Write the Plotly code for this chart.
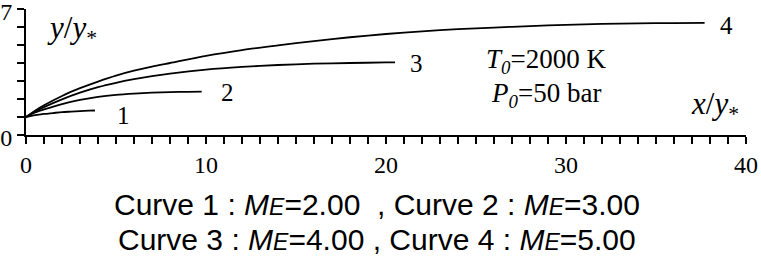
import plotly.graph_objects as go

# ---- data ----
x1 = [0, 0.5, 1, 1.5, 2, 2.5, 3, 3.5, 3.83]
y1 = [1.00, 1.10, 1.17, 1.22, 1.27, 1.30, 1.33, 1.35, 1.36]

x2 = [0, 0.5, 1, 2, 3, 4, 5, 6, 7, 8, 9, 9.76]
y2 = [1.00, 1.25, 1.42, 1.72, 1.95, 2.12, 2.23, 2.30, 2.35, 2.38, 2.40, 2.41]

x3 = [0, 0.5, 1, 2, 3, 4, 5, 6, 7, 8, 10, 12, 14, 16, 18, 20, 20.5]
y3 = [1.00, 1.30, 1.55, 1.98, 2.35, 2.66, 2.90, 3.10, 3.27, 3.41, 3.63, 3.78, 3.89, 3.96, 4.00, 4.03, 4.04]

x4 = [0, 0.5, 1, 2, 3, 4, 5, 6, 7, 8, 10, 12, 14, 16, 18, 20, 22, 24, 26, 28, 30, 32, 34, 36, 37.7]
y4 = [1.00, 1.35, 1.65, 2.17, 2.60, 2.97, 3.30, 3.57, 3.80, 4.00, 4.40, 4.72, 4.98, 5.22, 5.43, 5.61, 5.76, 5.88, 5.97, 6.05, 6.12, 6.17, 6.20, 6.22, 6.23]

curve_names = ["1", "2", "3", "4"]
x_ticks = [0, 10, 20, 30, 40]
y_ticks = [0, 7]

SERIF = "Liberation Serif, Times New Roman, serif"
SANS = "Liberation Sans, Arial, sans-serif"

fig = go.Figure()
for xs, ys, nm in zip([x1, x2, x3, x4], [y1, y2, y3, y4], curve_names):
    fig.add_trace(go.Scatter(x=xs, y=ys, mode="lines", name=nm,
                             line=dict(color="black", width=1.8, shape="spline", smoothing=0.8),
                             showlegend=False, hoverinfo="skip"))

ME = "<i>M</i><span style='font-size:23px'><i>E</i></span>"

ann = []
# curve labels
for (ax, ay), nm in zip([(5.44, 1.11), (11.2, 2.36), (21.7, 4.0), (38.9, 6.11)], curve_names):
    ann.append(dict(x=ax, y=ay, xref="x", yref="y", text=nm, showarrow=False,
                    font=dict(family=SERIF, size=25, color="black")))
ann.append(dict(x=28.9, y=4.11, xref="x", yref="y", showarrow=False,
                text="<i>T<sub>0</sub></i>=2000 K",
                font=dict(family=SERIF, size=27, color="black")))
ann.append(dict(x=28.9, y=2.22, xref="x", yref="y", showarrow=False,
                text="<i>P<sub>0</sub></i>=50 bar",
                font=dict(family=SERIF, size=27, color="black")))
ann.append(dict(x=38.3, y=1.61, xref="x", yref="y", showarrow=False,
                text="<i>x</i>/<i>y</i><sub>*</sub>",
                font=dict(family=SERIF, size=31, color="black")))
ann.append(dict(x=2.53, y=5.83, xref="x", yref="y", showarrow=False,
                text="<i>y</i>/<i>y</i><sub>*</sub>",
                font=dict(family=SERIF, size=31, color="black")))
# bottom caption
ann.append(dict(x=0.4875, y=-0.555, xref="paper", yref="paper", showarrow=False,
                xanchor="center", yanchor="middle",
                text="Curve 1 : " + ME + "=2.00  , Curve 2 : " + ME + "=3.00",
                font=dict(family=SANS, size=30, color="black")))
ann.append(dict(x=0.4875, y=-0.827, xref="paper", yref="paper", showarrow=False,
                xanchor="center", yanchor="middle",
                text="Curve 3 : " + ME + "=4.00 , Curve 4 : " + ME + "=5.00",
                font=dict(family=SANS, size=30, color="black")))

axis_common = dict(showgrid=False, zeroline=False, showline=True, linecolor="black",
                   linewidth=2, ticks="outside", ticklen=7, tickwidth=1.5,
                   tickcolor="black", tickfont=dict(family=SERIF, size=24, color="black"),
                   automargin=False, fixedrange=True, ticklabeloverflow="allow")

fig.update_layout(
    width=761, height=258,
    margin=dict(l=26, r=15, t=9, b=123, autoexpand=False),
    paper_bgcolor="white", plot_bgcolor="white",
    xaxis=dict(range=[0, 40], tickmode="array", tickvals=x_ticks,
               ticktext=[str(v) for v in x_ticks],
               minor=dict(dtick=1, tick0=0, ticks="outside", ticklen=7,
                          tickwidth=1.5, tickcolor="black"),
               **axis_common),
    yaxis=dict(range=[0, 7], tickmode="array", tickvals=y_ticks,
               ticktext=[str(v) for v in y_ticks], ticklabelshift=3,
               minor=dict(dtick=1, tick0=0, ticks="outside", ticklen=7,
                          tickwidth=1.5, tickcolor="black"),
               **axis_common),
    annotations=ann,
)

fig.write_html("out.html", config={"displayModeBar": False, "staticPlot": True},
               post_script="document.body.style.margin='0';")
